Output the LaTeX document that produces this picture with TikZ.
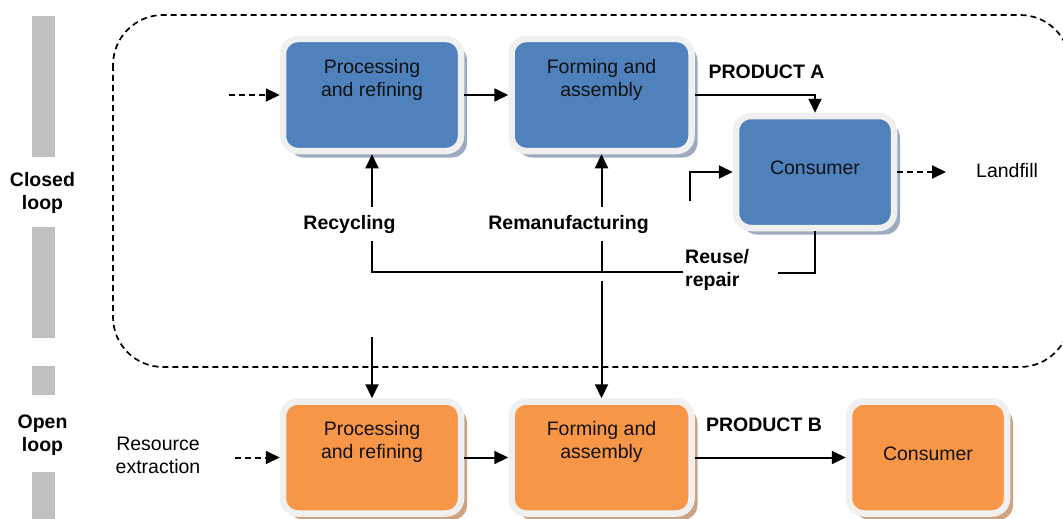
\documentclass[tikz,border=0pt]{standalone}
\usepackage{fontspec}
\setmainfont{Liberation Sans}
\usetikzlibrary{arrows.meta,shadows}
\definecolor{boxblue}{HTML}{4F81BD}
\definecolor{boxorange}{HTML}{F79646}
\definecolor{framegray}{HTML}{F0F0F0}
\definecolor{shadeblue}{HTML}{9DAAC0}
\definecolor{shadeorange}{HTML}{CDA382}
\definecolor{bargray}{HTML}{C0C0C0}
\definecolor{inktext}{HTML}{111111}

\begin{document}
\begin{tikzpicture}[x=1pt,y=-1pt,
  font=\fontsize{19.5}{23}\selectfont,
  stage/.style={rounded corners=15pt, draw=framegray, line width=6.5pt,
    minimum height=112pt, inner sep=0pt},
  bluestage/.style={stage, fill=boxblue,
    drop shadow={shadow xshift=6pt, shadow yshift=-6.5pt, fill=shadeblue, opacity=1}},
  orangestage/.style={stage, fill=boxorange,
    drop shadow={shadow xshift=6pt, shadow yshift=-6.5pt, fill=shadeorange, opacity=1}},
  boxtext/.style={align=center, text=inktext, inner sep=0pt},
  tag/.style={font=\fontsize{19.5}{23}\selectfont\bfseries, align=center, inner sep=0pt},
  gaptag/.style={tag, fill=white, inner xsep=2pt, inner ysep=8pt},
  plaintag/.style={align=center, inner sep=0pt},
  flow/.style={line width=2pt, -{Triangle[length=14pt,width=13pt]}},
  dashflow/.style={flow, dash pattern=on 6pt off 4pt},
  link/.style={line width=2pt},
  loopline/.style={line width=1.7pt, dash pattern=on 6pt off 4pt, rounded corners=50pt},
]
\useasboundingbox (0,0) rectangle (1063,519);

% grey side bars
\fill[bargray] (32,16) rectangle (55,157);
\fill[bargray] (32,227) rectangle (55,338);
\fill[bargray] (32,366) rectangle (55,395);
\fill[bargray] (32,472) rectangle (55,519);

% closed loop boundary
\draw[loopline] (113,15) rectangle (1070,367);

% closed loop stages
\node[bluestage, minimum width=178pt] (pr1) at (372,95) {};
\node[bluestage, minimum width=180pt] (fa1) at (601.5,95) {};
\node[bluestage, minimum width=158pt] (cons1) at (815,172) {};
\node[boxtext] (pr1t) at (372,80) {Processing\\and refining};
\node[boxtext] (fa1t) at (601.5,80) {Forming and\\assembly};
\node[boxtext] (cons1t) at (815,168) {Consumer};

% open loop stages
\node[orangestage, minimum width=178pt] (pr2) at (372,457.5) {};
\node[orangestage, minimum width=180pt] (fa2) at (601.5,457.5) {};
\node[orangestage, minimum width=158pt] (cons2) at (928,457.5) {};
\node[boxtext] (pr2t) at (372,442) {Processing\\and refining};
\node[boxtext] (fa2t) at (601.5,442) {Forming and\\assembly};
\node[boxtext] (cons2t) at (928,454) {Consumer};

% free ends of connectors
\coordinate (src1) at (229,95);
\coordinate (lf) at (946,172);
\coordinate (rra) at (778,273);
\coordinate (rrb) at (690,201);
\coordinate (rec) at (683,272);
\coordinate (ola) at (372,337);
\coordinate (olb) at (601.5,281);
\coordinate (src2) at (235,457.5);

% closed loop flows
\draw[dashflow] (src1) -- (pr1.west);
\draw[flow] (pr1.east) -- (fa1.west);
\draw[flow] (fa1.east) -| (cons1.north);
\draw[dashflow] (cons1.east) -- (lf);
\draw[link] (cons1.south) |- (rra);
\draw[flow] (rrb) |- (cons1.west);
\draw[flow] (rec) -| (pr1.south);
\draw[flow] (fa1.south |- rec) -- (fa1.south);

% open loop flows
\draw[flow] (ola) -- (pr2.north);
\draw[flow] (olb) -- (fa2.north);
\draw[dashflow] (src2) -- (pr2.west);
\draw[flow] (pr2.east) -- (fa2.west);
\draw[flow] (fa2.east) -- (cons2.west);

% labels
\node[gaptag] (recl) at (349.5,224) {Recycling};
\node[gaptag] (reml) at (568.5,224) {Remanufacturing};
\node[tag] (proda) at (766.5,72) {PRODUCT A};
\node[tag, align=left, anchor=west] (reuse) at (685,270) {Reuse/\\repair};
\node[tag] (prodb) at (764,425) {PRODUCT B};
\node[tag] (closed) at (42.5,193) {Closed\\loop};
\node[tag] (open) at (42.5,435) {Open\\loop};
\node[plaintag, anchor=west] (landfill) at (976,171) {Landfill};
\node[plaintag] (resource) at (158,455) {Resource\\extraction};
\end{tikzpicture}
\end{document}
